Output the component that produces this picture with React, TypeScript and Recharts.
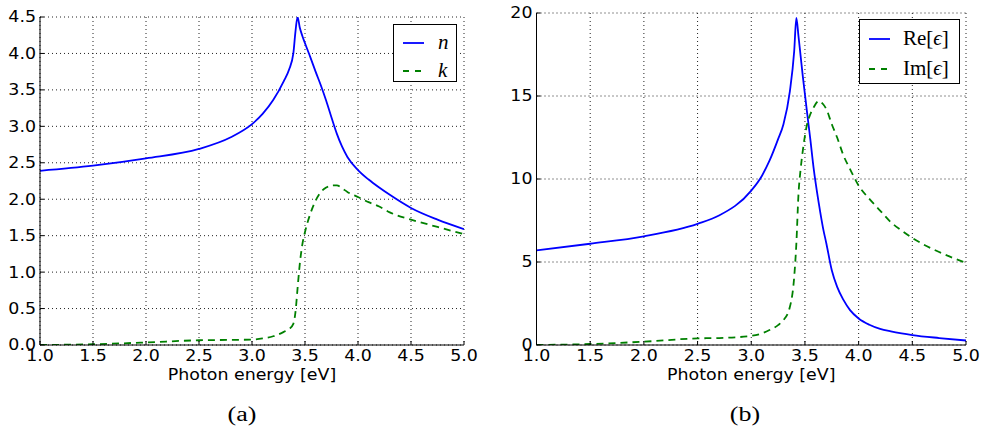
import React from 'react';
import { LineChart, Line, XAxis, YAxis, CartesianGrid } from 'recharts';

// Panel (a): refractive index
const energyA = [1.0, 1.5, 2.0, 2.5, 2.8, 3.0, 3.1, 3.2, 3.3, 3.35, 3.39, 3.41, 3.43, 3.45, 3.475, 3.5, 3.55, 3.6, 3.65, 3.7, 3.75, 3.8, 3.85, 3.9, 4.0, 4.1, 4.2, 4.3, 4.5, 4.75, 5.0];
const nValues = [2.39, 2.46, 2.56, 2.69, 2.85, 3.03, 3.17, 3.36, 3.62, 3.78, 4.0, 4.3, 4.5, 4.36, 4.24, 4.14, 3.95, 3.75, 3.56, 3.35, 3.12, 2.9, 2.72, 2.58, 2.4, 2.27, 2.16, 2.06, 1.88, 1.72, 1.59];
const kValues = [0.0, 0.01, 0.035, 0.065, 0.07, 0.075, 0.09, 0.12, 0.18, 0.22, 0.29, 0.45, 0.78, 1.1, 1.38, 1.55, 1.8, 1.98, 2.1, 2.16, 2.19, 2.19, 2.15, 2.1, 2.03, 1.96, 1.9, 1.82, 1.72, 1.62, 1.52];

// Panel (b): dielectric function
const energyB = [1.0, 1.5, 2.0, 2.5, 2.7, 3.0, 3.1, 3.17, 3.25, 3.3, 3.36, 3.4, 3.42, 3.44, 3.46, 3.48, 3.5, 3.52, 3.55, 3.58, 3.63, 3.67, 3.7, 3.75, 3.8, 3.86, 3.92, 4.0, 4.1, 4.2, 4.3, 4.4, 4.5, 4.75, 5.0];
const reEps = [5.7, 6.1, 6.55, 7.3, 7.8, 9.3, 10.2, 11.1, 12.4, 13.3, 15.3, 17.7, 19.7, 18.6, 17.4, 16.2, 15.1, 14.0, 12.4, 10.7, 8.5, 7.0, 6.1, 4.5, 3.5, 2.7, 2.1, 1.6, 1.22, 0.97, 0.82, 0.7, 0.6, 0.42, 0.27];
const imEps = [0.0, 0.06, 0.2, 0.4, 0.42, 0.55, 0.7, 0.9, 1.2, 1.5, 2.3, 4.1, 6.1, 9.1, 10.6, 11.7, 12.6, 13.3, 13.9, 14.3, 14.7, 14.5, 14.2, 13.3, 12.5, 11.4, 10.6, 9.6, 8.8, 8.1, 7.4, 6.9, 6.45, 5.6, 4.95];

const xTicks = [1.0, 1.5, 2.0, 2.5, 3.0, 3.5, 4.0, 4.5, 5.0];
const yTicksA = [0, 0.5, 1.0, 1.5, 2.0, 2.5, 3.0, 3.5, 4.0, 4.5];
const yTicksB = [0, 5, 10, 15, 20];

const dataA = energyA.map((e, i) => ({ e, n: nValues[i], k: kValues[i] }));
const dataB = energyB.map((e, i) => ({ e, re: reEps[i], im: imEps[i] }));

const BLUE = '#0000ff';
const GREEN = '#008000';
const SANS = 'DejaVu Sans';
const serif = "'Liberation Serif', 'DejaVu Serif', serif";
const STRETCH = 1.16;

const XTick = (p: any) => (
  <g transform={`translate(${p.x},${p.y})`}>
    <text transform={`scale(${STRETCH},1)`} textAnchor="middle" dy="0.74em" fontFamily={SANS} fontSize={15} fill="#000">
      {Number(p.payload.value).toFixed(1)}
    </text>
  </g>
);

const makeYTick = (fmt: (v: number) => string) => (p: any) => (
  <g transform={`translate(${p.x},${p.y})`}>
    <text transform={`scale(${STRETCH},1)`} textAnchor="end" dy="0.36em" fontFamily={SANS} fontSize={15} fill="#000">
      {fmt(Number(p.payload.value))}
    </text>
  </g>
);

const AxisTitle = (props: any) => {
  const vb = props.viewBox;
  return (
    <g transform={`translate(${vb.x + vb.width / 2},${vb.y + 35})`}>
      <text transform={`scale(${STRETCH},1)`} textAnchor="middle" fontFamily={SANS} fontSize={15} fill="#000">Photon energy [eV]</text>
    </g>
  );
};

function Panel(props: {
  data: any[]; keys: [string, string]; yTicks: number[]; yMax: number; yFmt: (v: number) => string;
  left: number; width: number; top: number; yWidth: number; right: number;
}) {
  const { data, keys, yTicks, yMax, yFmt, left, width, top, yWidth, right } = props;
  return (
    <div style={{ position: 'absolute', left, top: 0 }}>
      <LineChart width={width} height={428} data={data} margin={{ top, right, bottom: 43, left: 0 }}>
        <CartesianGrid stroke="#222" strokeDasharray="1 3" xAxisId="b" yAxisId="l" />
        <XAxis xAxisId="b" dataKey="e" type="number" domain={[1, 5]} ticks={xTicks} allowDataOverflow
          height={40} tickSize={-4} tickMargin={9} stroke="#000" tick={XTick}
          label={{ content: AxisTitle }} />
        <XAxis xAxisId="t" orientation="top" dataKey="e" type="number" domain={[1, 5]} ticks={xTicks}
          height={0} tickSize={-4} tick={false} stroke="#000" />
        <YAxis yAxisId="l" type="number" domain={[0, yMax]} ticks={yTicks} allowDataOverflow
          width={yWidth} tickSize={-4} tickMargin={8} stroke="#000" tick={makeYTick(yFmt)} />
        <YAxis yAxisId="r" orientation="right" type="number" domain={[0, yMax]} ticks={yTicks}
          width={0} tickSize={-4} tick={false} stroke="#000" />
        <Line xAxisId="b" yAxisId="l" type="monotone" dataKey={keys[0]} stroke={BLUE} strokeWidth={1.8} dot={false} isAnimationActive={false} />
        <Line xAxisId="b" yAxisId="l" type="monotone" dataKey={keys[1]} stroke={GREEN} strokeWidth={1.8} strokeDasharray="7 5" dot={false} isAnimationActive={false} />
      </LineChart>
    </div>
  );
}

function LegendBox(props: { left: number; top: number; width: number; height: number; rows: { y: number; dashed: boolean; color: string; label: React.ReactNode }[]; textX: number }) {
  const { left, top, width, height, rows, textX } = props;
  return (
    <div style={{ position: 'absolute', left, top, width, height, border: '1px solid #000', background: '#fff', boxSizing: 'border-box' }}>
      {rows.map((r, i) => (
        <React.Fragment key={i}>
          <svg style={{ position: 'absolute', left: 8, top: r.y - 5 }} width={24} height={10}>
            <line x1={1} y1={5} x2={22} y2={5} stroke={r.color} strokeWidth={1.8} strokeDasharray={r.dashed ? '6 6' : undefined} />
          </svg>
          <span style={{ position: 'absolute', left: textX, top: r.y - 14, lineHeight: '26px', fontSize: 21, fontFamily: serif, color: '#000', whiteSpace: 'nowrap' }}>{r.label}</span>
        </React.Fragment>
      ))}
    </div>
  );
}

const captionStyle: React.CSSProperties = { position: 'absolute', width: 84, top: 403, textAlign: 'center', fontFamily: serif, fontSize: 20, color: '#000', transform: 'scaleX(1.3)' };

export default function App() {
  return (
    <div style={{ position: 'absolute', left: 0, top: 0, width: 987, height: 428, background: '#fff', overflow: 'hidden' }}>
      <Panel data={dataA} keys={['n', 'k']} yTicks={yTicksA} yMax={4.5} yFmt={(v) => v.toFixed(1)}
        left={0} width={480} top={17} yWidth={40} right={16} />
      <Panel data={dataB} keys={['re', 'im']} yTicks={yTicksB} yMax={20} yFmt={(v) => String(v)}
        left={490} width={497} top={13} yWidth={46.5} right={21} />
      <LegendBox left={393} top={24} width={64} height={58} textX={44}
        rows={[
          { y: 18, dashed: false, color: BLUE, label: <i>n</i> },
          { y: 46, dashed: true, color: GREEN, label: <i>k</i> },
        ]} />
      <LegendBox left={859} top={19} width={101} height={65} textX={43}
        rows={[
          { y: 19, dashed: false, color: BLUE, label: <span>Re[<i>ϵ</i>]</span> },
          { y: 49, dashed: true, color: GREEN, label: <span>Im[<i>ϵ</i>]</span> },
        ]} />
      <div style={{ ...captionStyle, left: 200 }}>(a)</div>
      <div style={{ ...captionStyle, left: 703 }}>(b)</div>
    </div>
  );
}
